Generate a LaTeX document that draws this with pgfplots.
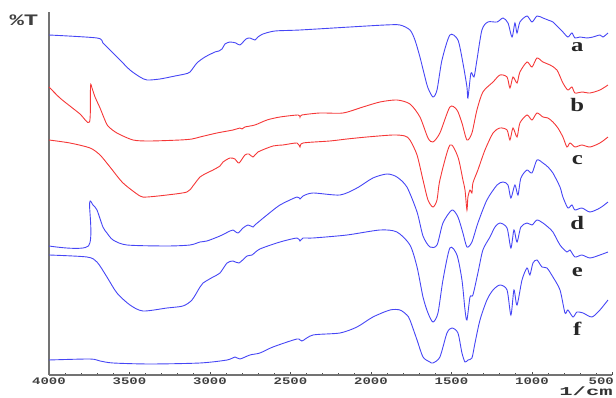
\documentclass[border=0pt]{standalone}
\usepackage{pgfplots}
\pgfplotsset{compat=1.18}
\usepackage{fontspec}
\setmainfont{Liberation Serif}
\setmonofont{Liberation Mono}
\definecolor{cblue}{RGB}{70,70,245}
\definecolor{cred}{RGB}{245,55,55}
\tikzset{lbl/.style={font=\bfseries\fontsize{19}{19}\selectfont, xscale=1.3, black!85}}
\begin{document}
\begin{tikzpicture}
\useasboundingbox (-49pt,-23pt) rectangle (567pt,375pt);
\begin{axis}[
  scale only axis, width=563.5pt, height=363pt,
  at={(0pt,0pt)}, anchor=south west,
  x dir=reverse, xmin=500, xmax=4000, ymin=23, ymax=386,
  axis x line=bottom, axis y line=left,
  axis line style={-, black!55, line width=1.3pt},
  xtick={500,1000,...,4000}, minor x tick num=4,
  xticklabels={{\kern-16pt 500},1000,1500,2000,2500,3000,3500,4000},
  ytick=\empty,
  tick align=inside, major tick length=3pt, minor tick length=2pt,
  tick style={black!70, line width=0.8pt},
  xticklabel style={font=\ttfamily\bfseries\fontsize{10}{10}\selectfont, xscale=1.4, black!75, inner sep=0pt, text height=6.5pt, text depth=0pt, anchor=north, yshift=-3pt},
  clip=false,
  every axis plot/.append style={smooth, tension=0.45, line width=0.9pt},
]
% a
\addplot[cblue] coordinates {
(4000,363)(3702,360)(3665,355)(3621,348)(3559,338)(3497,328)(3435,321)(3391,318)(3311,319)(3217,322)(3155,324)(3124,326)(3081,335)(3031,341)(2969,346)(2944,347)(2925,349)(2907,354)(2876,356)(2839,355)(2814,353)(2776,359)(2752,360)(2721,358)(2702,361)(2671,364)(2596,367)(2441,368)(2130,371)(1913,373)(1820,373)(1758,368)(1727,358)(1696,341)(1665,321)(1646,310)(1615,301)(1590,308)(1559,338)(1510,363)(1460,358)(1429,335)(1404,311)(1398,300)(1379,325)(1360,321)(1342,338)(1311,368)(1274,376)(1217,376)(1180,380)(1149,375)(1124,361)(1106,375)(1093,365)(1075,376)(1031,382)(1000,376)(969,382)(932,380)(901,378)(870,376)(839,371)(808,366)(777,361)(752,365)(733,360)(702,361)(659,360)(621,361)(578,363)(559,361)(528,365)
};
% b
\addplot[cred] coordinates {
(4000,311)(3932,300)(3870,292)(3807,284)(3748,276)(3742,312)(3733,310)(3714,301)(3683,290)(3658,280)(3634,272)(3578,265)(3478,258)(3373,257)(3186,258)(3112,259)(3062,261)(2957,265)(2857,268)(2814,270)(2801,269)(2783,271)(2721,273)(2646,278)(2565,281)(2453,283)(2441,281)(2429,283)(2317,285)(2174,285)(2050,291)(1944,296)(1839,298)(1758,294)(1696,281)(1646,260)(1615,256)(1572,265)(1510,291)(1466,288)(1435,275)(1404,258)(1373,265)(1342,288)(1305,306)(1242,316)(1199,323)(1155,321)(1137,310)(1118,321)(1093,315)(1075,326)(1031,336)(1000,331)(969,340)(932,336)(888,333)(845,328)(808,315)(777,308)(752,311)(733,305)(690,306)(640,305)(578,308)(528,313)
};
% c
\addplot[cred] coordinates {
(4000,258)(3870,255)(3745,250)(3683,243)(3621,231)(3540,215)(3435,202)(3391,201)(3267,203)(3143,206)(3106,212)(3062,221)(3019,225)(2981,228)(2938,232)(2919,236)(2876,240)(2845,239)(2820,235)(2783,243)(2758,244)(2733,241)(2702,246)(2609,252)(2547,253)(2460,255)(2441,251)(2422,255)(2255,257)(2149,259)(2025,261)(1863,263)(1789,262)(1758,258)(1714,243)(1677,218)(1646,198)(1615,191)(1590,198)(1572,218)(1510,253)(1460,241)(1429,218)(1416,208)(1404,188)(1398,201)(1385,208)(1373,205)(1367,215)(1336,228)(1292,248)(1242,265)(1199,270)(1155,268)(1137,258)(1118,270)(1093,261)(1075,275)(1031,283)(1000,278)(969,285)(932,281)(901,280)(870,276)(839,270)(808,261)(783,251)(764,255)(733,251)(690,253)(640,251)(578,255)(528,261)
};
% d
\addplot[cblue] coordinates {
(4000,152)(3755,152)(3748,195)(3727,193)(3702,188)(3665,171)(3640,165)(3602,158)(3516,153)(3267,152)(3124,153)(3062,156)(3019,157)(2938,162)(2876,167)(2857,168)(2826,165)(2795,170)(2764,173)(2733,171)(2721,173)(2646,183)(2565,193)(2460,201)(2441,199)(2422,202)(2360,205)(2193,203)(2087,210)(1988,220)(1901,224)(1839,221)(1777,211)(1714,186)(1677,162)(1634,151)(1590,153)(1553,175)(1497,188)(1460,181)(1429,165)(1404,151)(1373,156)(1336,175)(1280,198)(1217,213)(1180,216)(1149,213)(1131,200)(1106,213)(1087,203)(1069,220)(1031,228)(1000,225)(969,238)(932,235)(901,231)(870,225)(826,211)(808,201)(777,190)(752,193)(733,188)(690,190)(640,186)(578,190)(528,196)
};
% e
\addplot[cblue] coordinates {
(4000,143)(3764,141)(3702,136)(3640,121)(3578,105)(3497,93)(3416,87)(3267,90)(3168,92)(3112,98)(3062,111)(3043,115)(2981,121)(2938,125)(2894,135)(2857,137)(2820,135)(2770,142)(2739,143)(2690,149)(2565,156)(2460,160)(2441,157)(2422,160)(2360,160)(2149,163)(1944,168)(1839,166)(1758,153)(1714,131)(1677,101)(1646,85)(1615,76)(1584,85)(1553,118)(1510,150)(1466,143)(1435,118)(1416,88)(1404,78)(1385,101)(1367,103)(1336,125)(1305,148)(1261,161)(1230,171)(1199,175)(1155,170)(1131,150)(1112,168)(1093,156)(1069,171)(1031,175)(1000,173)(969,178)(932,175)(901,171)(870,166)(826,153)(783,146)(764,148)(733,141)(690,143)(640,140)(578,143)(528,146)
};
% f
\addplot[cblue] coordinates {
(4000,38)(3745,39)(3683,37)(3602,35)(3373,34)(3062,35)(2894,38)(2845,41)(2814,39)(2752,43)(2690,45)(2609,51)(2460,59)(2429,57)(2360,63)(2193,65)(2087,71)(1988,81)(1882,88)(1820,88)(1777,83)(1758,78)(1714,58)(1677,41)(1634,36)(1615,35)(1572,41)(1528,65)(1497,70)(1460,65)(1435,45)(1416,36)(1398,38)(1373,40)(1354,55)(1323,78)(1280,98)(1242,108)(1199,113)(1155,108)(1131,83)(1112,108)(1093,93)(1062,118)(1031,130)(1013,123)(994,135)(969,138)(938,131)(907,130)(870,121)(826,108)(795,85)(777,88)(745,81)(721,86)(683,85)(628,81)(578,88)(528,98)
};
\node[lbl] at (axis cs:719,351) {a};
\node[lbl] at (axis cs:719,293) {b};
\node[lbl] at (axis cs:719,238) {c};
\node[lbl] at (axis cs:719,175) {d};
\node[lbl] at (axis cs:719,126) {e};
\node[lbl] at (axis cs:719,69) {f};
\end{axis}
\node[font=\ttfamily\bfseries\fontsize{16}{16}\selectfont, xscale=1.5, black!75] at (-25pt,355pt) {\%T};
\node[font=\ttfamily\bfseries\fontsize{12}{12}\selectfont, xscale=1.85, black!80, inner sep=0pt, text height=8pt, text depth=1.5pt, anchor=base] at (537pt,-20.5pt) {1/cm};
\end{tikzpicture}
\end{document}
